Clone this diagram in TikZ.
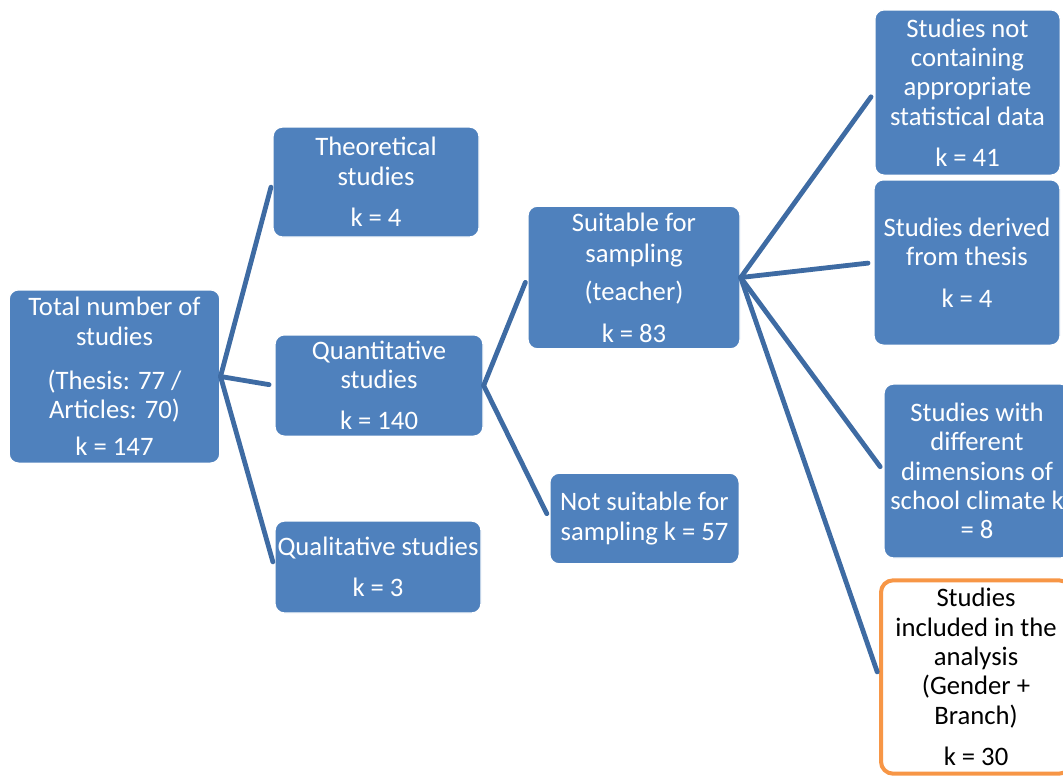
\documentclass[tikz,border=0pt]{standalone}
\usepackage{fontspec}
\setmainfont{Carlito}
\usetikzlibrary{positioning}
\definecolor{boxblue}{HTML}{4F81BD}
\definecolor{linkblue}{HTML}{3E6BA3}
\definecolor{hiorange}{HTML}{F79646}

\begin{document}
\begin{tikzpicture}[
    x=0.75pt, y=-0.75pt,
    font=\fontsize{20}{22}\selectfont,
    blk/.style={draw=white, line width=1pt, fill=boxblue, text=white, rounded corners=7pt, align=center, inner sep=0pt},
    keep/.style={draw=hiorange, line width=3pt, fill=white, text=black, rounded corners=9pt, align=center, inner sep=0pt},
    link/.style={draw=linkblue, line width=3.6pt, line cap=round, shorten >=4pt}]
  \useasboundingbox (0,0) rectangle (1063,776);
  \clip (0,0) rectangle (1063,776);
  % level 1
  \node[blk, minimum width=158pt, minimum height=130pt] (total) at (114.5,376.5)
    {Total number of\\studies\\[11pt](Thesis: 77 /\\Articles: 70)\\[6pt]k = 147};
  % level 2
  \node[blk, minimum width=154.5pt, minimum height=82.5pt] (theo) at (376,182)
    {Theoretical\\studies\\[9pt]k = 4};
  \node[blk, minimum width=156pt, minimum height=76pt] (quant) at (379,385.5)
    {Quantitative\\studies\\[9pt]k = 140};
  \node[blk, minimum width=154.5pt, minimum height=69pt] (qual) at (378,567)
    {Qualitative studies\\[9pt]k = 3};
  % level 3
  \node[blk, minimum width=159pt, minimum height=107pt] (suit) at (634,277.5)
    {Suitable for\\[1pt]sampling\\[7pt](teacher)\\[9pt]k = 83};
  \node[blk, minimum width=142pt, minimum height=68pt] (nosuit) at (644.5,518.5)
    {Not suitable for\\sampling k = 57};
  % level 4
  \node[blk, minimum width=139pt, minimum height=124pt] (nodata) at (967.5,92.5)
    {Studies not\\containing\\appropriate\\statistical data\\[9pt]k = 41};
  \node[blk, minimum width=139.5pt, minimum height=124pt] (fromthesis) at (967,262.5)
    {Studies derived\\from thesis\\[9pt]k = 4};
  \node[blk, minimum width=139.5pt, minimum height=130.5pt] (dims) at (977,471)
    {Studies with\\different\\dimensions of\\school climate k\\= 8};
  \node[keep, minimum width=142.5pt, minimum height=145pt] (incl) at (976,677)
    {Studies\\included in the\\analysis\\(Gender +\\Branch)\\[9pt]k = 30};
  % connectors
  \draw[link] (total.east) -- (theo.west);
  \draw[link] (total.east) -- (quant.west);
  \draw[link] (total.east) -- (qual.west);
  \draw[link] (quant.east) -- (suit.west);
  \draw[link] (quant.east) -- (nosuit.west);
  \draw[link] (suit.east) -- (nodata.west);
  \draw[link] (suit.east) -- (fromthesis.west);
  \draw[link] (suit.east) -- (dims.west);
  \draw[link] (suit.east) -- (incl.west);
\end{tikzpicture}
\end{document}
